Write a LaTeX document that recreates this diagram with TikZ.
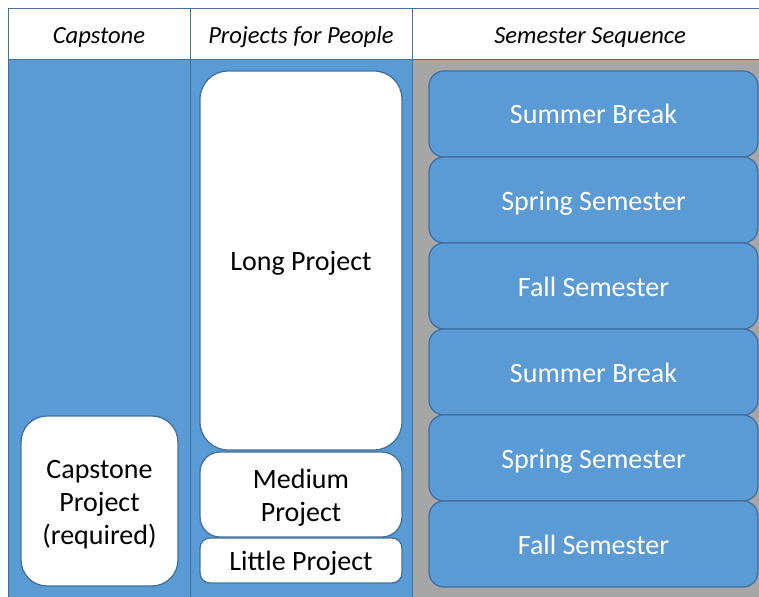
\documentclass[tikz,border=0pt]{standalone}
\usepackage{fontspec}
\setmainfont{Carlito}
\definecolor{cblue}{RGB}{91,155,213}
\definecolor{cedge}{RGB}{65,113,156}
\definecolor{cgray}{RGB}{166,166,166}
\begin{document}
\begin{tikzpicture}[x=1pt,y=-1pt,
  blu/.style={fill=cblue},
  edge/.style={draw=cedge,line width=1.3pt},
  one/.style={text height=25pt,text depth=5pt},
  hdr/.style={font=\fontsize{24.6}{30}\selectfont\itshape,text=black,text height=22pt,text depth=4.4pt},
  wbox/.style={edge,fill=white,align=center,inner sep=0pt,font=\fontsize{28}{33}\selectfont},
  bbox/.style={edge,blu,text=white,inner sep=0pt,rounded corners=15pt,minimum width=329pt,minimum height=86pt,font=\fontsize{28}{33}\selectfont,one}]
\useasboundingbox (0,0) rectangle (759,596);
% backgrounds
\fill[white] (0,0) rectangle (759,596);
\fill[white] (8,9) rectangle (765,60);
\fill[cblue] (8,60) rectangle (412,600);
\fill[cgray] (412,60) rectangle (765,600);
% grid lines
\draw[edge,line width=1pt] (765,9) -- (8,9) -- (8,600);
\draw[edge,line width=1pt] (8,60) -- (765,60);
\draw[edge,line width=1pt] (190,9) -- (190,600);
\draw[edge,line width=1pt] (412,9) -- (412,600);
% headers
\node[hdr] (h1) at (99,35) {Capstone};
\node[hdr] (h2) at (301,35) {Projects for People};
\node[hdr] (h3) at (590,35) {Semester Sequence};
% white boxes
\node[wbox,one,rounded corners=28pt,minimum width=202pt,minimum height=379pt] (long) at (301,260.5) {Long Project};
\node[wbox,text height=63pt,text depth=10pt,rounded corners=20pt,minimum width=202pt,minimum height=85pt] (med) at (301,494.5) {Medium\\Project};
\node[wbox,one,rounded corners=10pt,minimum width=202pt,minimum height=45pt] (little) at (301,560.5) {Little Project};
\node[wbox,text height=96pt,text depth=10pt,rounded corners=26pt,minimum width=157pt,minimum height=170pt] (cap) at (99.5,501) {Capstone\\Project\\(required)};
% semester boxes
\node[bbox] (s1) at (593.5,114) {Summer Break};
\node[bbox] (s2) at (593.5,200) {Spring Semester};
\node[bbox] (s3) at (593.5,286) {Fall Semester};
\node[bbox] (s4) at (593.5,372) {Summer Break};
\node[bbox] (s5) at (593.5,458) {Spring Semester};
\node[bbox] (s6) at (593.5,544) {Fall Semester};
\end{tikzpicture}
\end{document}
